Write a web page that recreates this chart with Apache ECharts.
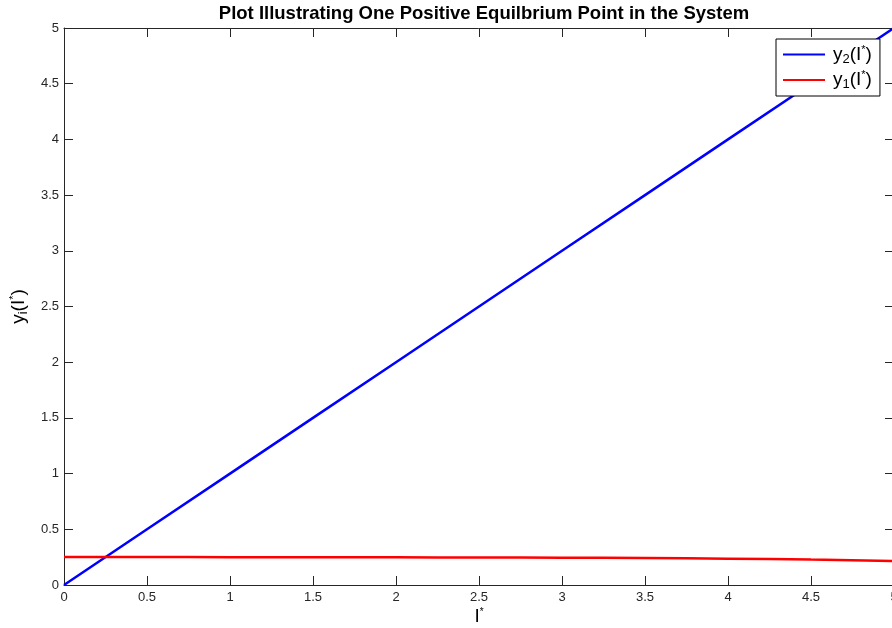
<!DOCTYPE html>
<html>
<head>
<meta charset="utf-8">
<script src="https://cdn.jsdelivr.net/npm/echarts@6/dist/echarts.min.js"></script>
<style>html,body{margin:0;padding:0;background:#fff;}#c{width:892px;height:628px;}</style>
</head>
<body>
<div id="c"></div>
<script>
var titleText = 'Plot Illustrating One Positive Equilbrium Point in the System';
var xValues = [0, 0.5, 1, 1.5, 2, 2.5, 3, 3.5, 4, 4.5, 5];
var y2Values = [0, 0.5, 1, 1.5, 2, 2.5, 3, 3.5, 4, 4.5, 5];
var y1Values = [0.251, 0.251, 0.250, 0.249, 0.248, 0.247, 0.245, 0.242, 0.236, 0.228, 0.216];
var seriesNames = ['y2', 'y1'];

var FONT = '"Liberation Sans", Arial, Helvetica, sans-serif';
var AX = '#262626';
function pairs(xs, ys){ return xs.map(function(x,i){ return [x, ys[i]]; }); }

var richLegend = {
  n: {fontSize: 19, fontFamily: FONT, color: '#000'},
  sub: {fontSize: 13, fontFamily: FONT, color: '#000', padding: [9,0,0,0]},
  sup: {fontSize: 11, fontFamily: FONT, color: '#000', padding: [0,0,10,0]}
};
var richY = {
  n: {fontSize: 19, fontFamily: FONT, color: '#000'},
  sub: {fontSize: 13, fontFamily: FONT, color: '#000', padding: [9,0,0,0]},
  sup: {fontSize: 11, fontFamily: FONT, color: '#000', padding: [0,0,10,0]}
};

var chart = echarts.init(document.getElementById('c'), null, {renderer: 'canvas'});
chart.setOption({
  animation: false,
  backgroundColor: '#fff',
  title: {
    text: titleText, left: 479, top: -1, textAlign: 'center',
    textStyle: {fontFamily: FONT, fontSize: 18.5, fontWeight: 'bold', color: '#000'}
  },
  legend: {
    left: 776, top: 39, orient: 'vertical',
    backgroundColor: '#fff', borderColor: '#000', borderWidth: 1,
    padding: [5, 8, 5, 7], itemGap: 4, itemWidth: 42, itemHeight: 2,
    icon: 'rect',
    data: seriesNames,
    formatter: function(name){
      return '{n|y}{sub|' + name.slice(1) + '}{n|(I}{sup|*}{n|)}';
    },
    textStyle: {rich: richLegend, fontFamily: FONT, fontSize: 19, padding: [0,0,0,3]}
  },
  grid: {left: 64, width: 830, top: 28, height: 557, containLabel: false, outerBoundsMode: 'none'},
  xAxis: [{
    type: 'value', min: 0, max: 5, interval: 0.5, position: 'bottom',
    name: '{n|I}{sup|*}', nameLocation: 'middle', nameGap: 22, nameMoveOverlap: false,
    nameTextStyle: {rich: {n: {fontSize: 19, fontFamily: FONT, color: '#000'}, sup: {fontSize: 10, fontFamily: FONT, color: '#000', padding: [0,0,10,0]}}},
    axisLine: {show: true, lineStyle: {color: AX, width: 1}},
    axisTick: {show: true, inside: true, length: 9, lineStyle: {color: AX}},
    axisLabel: {fontFamily: FONT, fontSize: 13, color: AX, margin: 6},
    splitLine: {show: false}
  }, {
    type: 'value', min: 0, max: 5, interval: 0.5, position: 'top',
    axisLine: {show: true, onZero: false, lineStyle: {color: AX, width: 1}},
    axisTick: {show: true, inside: true, length: 9, lineStyle: {color: AX}},
    axisLabel: {show: false}, splitLine: {show: false}
  }],
  yAxis: [{
    type: 'value', min: 0, max: 5, interval: 0.5, position: 'left',
    name: '{n|y}{sub|i}{n|(I}{sup|*}{n|)}', nameLocation: 'middle', nameGap: 33, nameRotate: 90,
    nameTextStyle: {rich: richY},
    axisLine: {show: true, onZero: false, lineStyle: {color: AX, width: 1}},
    axisTick: {show: true, inside: true, length: 9, lineStyle: {color: AX}},
    axisLabel: {fontFamily: FONT, fontSize: 13, color: AX, margin: 5},
    splitLine: {show: false}
  }, {
    type: 'value', min: 0, max: 5, interval: 0.5, position: 'right',
    axisLine: {show: true, onZero: false, lineStyle: {color: AX, width: 1}},
    axisTick: {show: true, inside: true, length: 9, lineStyle: {color: AX}},
    axisLabel: {show: false}, splitLine: {show: false}
  }],
  series: [{
    name: 'y2', type: 'line', xAxisIndex: 0, yAxisIndex: 0,
    data: pairs(xValues, y2Values), showSymbol: false, symbol: 'none',
    lineStyle: {color: '#0000ff', width: 2.5}, itemStyle: {color: '#0000ff'}, z: 3
  }, {
    name: 'y1', type: 'line', xAxisIndex: 0, yAxisIndex: 0, smooth: true,
    data: pairs(xValues, y1Values), showSymbol: false, symbol: 'none',
    lineStyle: {color: '#ff0000', width: 2.5}, itemStyle: {color: '#ff0000'}, z: 4
  }]
});
</script>
</body>
</html>
